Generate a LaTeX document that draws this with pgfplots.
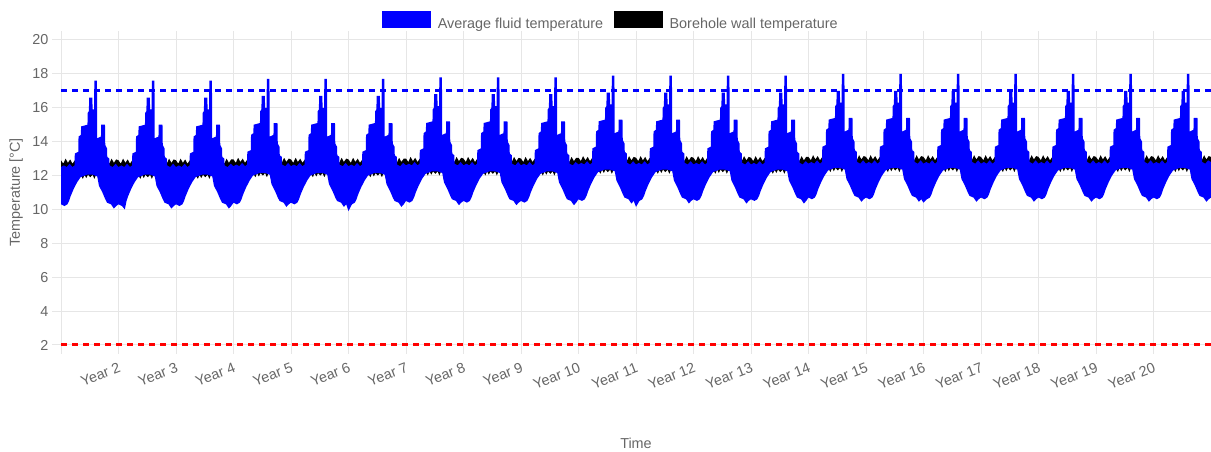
\documentclass[border=0pt]{standalone}
\usepackage{pgfplots}
\usepackage{pgfplotstable}
\pgfplotsset{compat=1.18}
\usepgfplotslibrary{fillbetween}
\usepackage{fontspec}
\setmainfont{Liberation Sans}
\definecolor{txt}{HTML}{666666}
\definecolor{gridc}{HTML}{E6E6E6}
\definecolor{fblue}{RGB}{0,0,255}
\definecolor{fred}{RGB}{255,0,0}
\newcommand{\cf}{\fontsize{14.4}{17}\selectfont}

% Average fluid temperature: upper envelope
\pgfplotstableread[row sep=\\]{x y\\
0 12.5\\0.05 12.6\\0.1 12.5\\0.15 12.7\\0.2 12.5\\0.235 12.6\\0.24 13.3\\0.3 13.4\\0.305 14.3\\0.345 14.4\\0.35 14.9\\0.46 15.0\\0.465 15.7\\0.485 15.8\\0.49 16.6\\0.545 16.6\\0.55 15.9\\0.575 15.9\\0.58 17.6\\0.625 17.6\\0.63 14.2\\0.695 14.3\\0.7 15.0\\0.765 15.0\\0.77 13.8\\0.8 13.6\\0.805 13.1\\0.84 13.0\\0.845 12.6\\0.9 12.5\\0.95 12.7\\
1 12.5\\1.05 12.6\\1.1 12.5\\1.15 12.7\\1.2 12.5\\1.235 12.6\\1.24 13.3\\1.3 13.4\\1.305 14.3\\1.345 14.4\\1.35 14.9\\1.46 15.0\\1.465 15.7\\1.485 15.8\\1.49 16.6\\1.545 16.6\\1.55 15.9\\1.575 15.9\\1.58 17.6\\1.625 17.6\\1.63 14.2\\1.695 14.3\\1.7 15.0\\1.765 15.0\\1.77 13.8\\1.8 13.6\\1.805 13.1\\1.84 13.0\\1.845 12.6\\1.9 12.5\\1.95 12.7\\
2 12.5\\2.05 12.6\\2.1 12.5\\2.15 12.7\\2.2 12.5\\2.235 12.6\\2.24 13.3\\2.3 13.4\\2.305 14.3\\2.345 14.4\\2.35 14.9\\2.46 15.0\\2.465 15.7\\2.485 15.8\\2.49 16.6\\2.545 16.6\\2.55 15.9\\2.575 15.9\\2.58 17.6\\2.625 17.6\\2.63 14.2\\2.695 14.3\\2.7 15.0\\2.765 15.0\\2.77 13.8\\2.8 13.6\\2.805 13.1\\2.84 13.0\\2.845 12.6\\2.9 12.5\\2.95 12.7\\
3 12.55\\3.05 12.65\\3.1 12.55\\3.15 12.75\\3.2 12.55\\3.235 12.65\\3.24 13.4\\3.3 13.5\\3.305 14.4\\3.345 14.5\\3.35 15.0\\3.46 15.1\\3.465 15.8\\3.485 15.9\\3.49 16.7\\3.545 16.7\\3.55 16.0\\3.575 16.0\\3.58 17.7\\3.625 17.7\\3.63 14.3\\3.695 14.4\\3.7 15.1\\3.765 15.1\\3.77 13.9\\3.8 13.7\\3.805 13.2\\3.84 13.1\\3.845 12.65\\3.9 12.55\\3.95 12.75\\
4 12.55\\4.05 12.65\\4.1 12.55\\4.15 12.75\\4.2 12.55\\4.235 12.65\\4.24 13.4\\4.3 13.5\\4.305 14.4\\4.345 14.5\\4.35 15.0\\4.46 15.1\\4.465 15.8\\4.485 15.9\\4.49 16.7\\4.545 16.7\\4.55 16.0\\4.575 16.0\\4.58 17.7\\4.625 17.7\\4.63 14.3\\4.695 14.4\\4.7 15.1\\4.765 15.1\\4.77 13.9\\4.8 13.7\\4.805 13.2\\4.84 13.1\\4.845 12.65\\4.9 12.55\\4.95 12.75\\
5 12.55\\5.05 12.65\\5.1 12.55\\5.15 12.75\\5.2 12.55\\5.235 12.65\\5.24 13.4\\5.3 13.5\\5.305 14.4\\5.345 14.5\\5.35 15.0\\5.46 15.1\\5.465 15.8\\5.485 15.9\\5.49 16.7\\5.545 16.7\\5.55 16.0\\5.575 16.0\\5.58 17.7\\5.625 17.7\\5.63 14.3\\5.695 14.4\\5.7 15.1\\5.765 15.1\\5.77 13.9\\5.8 13.7\\5.805 13.2\\5.84 13.1\\5.845 12.65\\5.9 12.55\\5.95 12.75\\
6 12.6\\6.05 12.7\\6.1 12.6\\6.15 12.8\\6.2 12.6\\6.235 12.7\\6.24 13.5\\6.3 13.6\\6.305 14.5\\6.345 14.6\\6.35 15.1\\6.46 15.2\\6.465 15.9\\6.485 16.0\\6.49 16.8\\6.545 16.8\\6.55 16.1\\6.575 16.1\\6.58 17.8\\6.625 17.8\\6.63 14.4\\6.695 14.5\\6.7 15.2\\6.765 15.2\\6.77 14.0\\6.8 13.8\\6.805 13.3\\6.84 13.2\\6.845 12.7\\6.9 12.6\\6.95 12.8\\
7 12.6\\7.05 12.7\\7.1 12.6\\7.15 12.8\\7.2 12.6\\7.235 12.7\\7.24 13.5\\7.3 13.6\\7.305 14.5\\7.345 14.6\\7.35 15.1\\7.46 15.2\\7.465 15.9\\7.485 16.0\\7.49 16.8\\7.545 16.8\\7.55 16.1\\7.575 16.1\\7.58 17.8\\7.625 17.8\\7.63 14.4\\7.695 14.5\\7.7 15.2\\7.765 15.2\\7.77 14.0\\7.8 13.8\\7.805 13.3\\7.84 13.2\\7.845 12.7\\7.9 12.6\\7.95 12.8\\
8 12.6\\8.05 12.7\\8.1 12.6\\8.15 12.8\\8.2 12.6\\8.235 12.7\\8.24 13.5\\8.3 13.6\\8.305 14.5\\8.345 14.6\\8.35 15.1\\8.46 15.2\\8.465 15.9\\8.485 16.0\\8.49 16.8\\8.545 16.8\\8.55 16.1\\8.575 16.1\\8.58 17.8\\8.625 17.8\\8.63 14.4\\8.695 14.5\\8.7 15.2\\8.765 15.2\\8.77 14.0\\8.8 13.8\\8.805 13.3\\8.84 13.2\\8.845 12.7\\8.9 12.6\\8.95 12.8\\
9 12.65\\9.05 12.75\\9.1 12.65\\9.15 12.85\\9.2 12.65\\9.235 12.75\\9.24 13.6\\9.3 13.7\\9.305 14.6\\9.345 14.7\\9.35 15.2\\9.46 15.3\\9.465 16.0\\9.485 16.1\\9.49 16.9\\9.545 16.9\\9.55 16.2\\9.575 16.2\\9.58 17.9\\9.625 17.9\\9.63 14.5\\9.695 14.6\\9.7 15.3\\9.765 15.3\\9.77 14.1\\9.8 13.9\\9.805 13.4\\9.84 13.3\\9.845 12.75\\9.9 12.65\\9.95 12.85\\
10 12.65\\10.05 12.75\\10.1 12.65\\10.15 12.85\\10.2 12.65\\10.235 12.75\\10.24 13.6\\10.3 13.7\\10.305 14.6\\10.345 14.7\\10.35 15.2\\10.46 15.3\\10.465 16.0\\10.485 16.1\\10.49 16.9\\10.545 16.9\\10.55 16.2\\10.575 16.2\\10.58 17.9\\10.625 17.9\\10.63 14.5\\10.695 14.6\\10.7 15.3\\10.765 15.3\\10.77 14.1\\10.8 13.9\\10.805 13.4\\10.84 13.3\\10.845 12.75\\10.9 12.65\\10.95 12.85\\
11 12.65\\11.05 12.75\\11.1 12.65\\11.15 12.85\\11.2 12.65\\11.235 12.75\\11.24 13.6\\11.3 13.7\\11.305 14.6\\11.345 14.7\\11.35 15.2\\11.46 15.3\\11.465 16.0\\11.485 16.1\\11.49 16.9\\11.545 16.9\\11.55 16.2\\11.575 16.2\\11.58 17.9\\11.625 17.9\\11.63 14.5\\11.695 14.6\\11.7 15.3\\11.765 15.3\\11.77 14.1\\11.8 13.9\\11.805 13.4\\11.84 13.3\\11.845 12.75\\11.9 12.65\\11.95 12.85\\
12 12.65\\12.05 12.75\\12.1 12.65\\12.15 12.85\\12.2 12.65\\12.235 12.75\\12.24 13.6\\12.3 13.7\\12.305 14.6\\12.345 14.7\\12.35 15.2\\12.46 15.3\\12.465 16.0\\12.485 16.1\\12.49 16.9\\12.545 16.9\\12.55 16.2\\12.575 16.2\\12.58 17.9\\12.625 17.9\\12.63 14.5\\12.695 14.6\\12.7 15.3\\12.765 15.3\\12.77 14.1\\12.8 13.9\\12.805 13.4\\12.84 13.3\\12.845 12.75\\12.9 12.65\\12.95 12.85\\
13 12.7\\13.05 12.8\\13.1 12.7\\13.15 12.9\\13.2 12.7\\13.235 12.8\\13.24 13.7\\13.3 13.8\\13.305 14.7\\13.345 14.8\\13.35 15.3\\13.46 15.4\\13.465 16.1\\13.485 16.2\\13.49 17.0\\13.545 17.0\\13.55 16.3\\13.575 16.3\\13.58 18.0\\13.625 18.0\\13.63 14.6\\13.695 14.7\\13.7 15.4\\13.765 15.4\\13.77 14.2\\13.8 14.0\\13.805 13.5\\13.84 13.4\\13.845 12.8\\13.9 12.7\\13.95 12.9\\
14 12.7\\14.05 12.8\\14.1 12.7\\14.15 12.9\\14.2 12.7\\14.235 12.8\\14.24 13.7\\14.3 13.8\\14.305 14.7\\14.345 14.8\\14.35 15.3\\14.46 15.4\\14.465 16.1\\14.485 16.2\\14.49 17.0\\14.545 17.0\\14.55 16.3\\14.575 16.3\\14.58 18.0\\14.625 18.0\\14.63 14.6\\14.695 14.7\\14.7 15.4\\14.765 15.4\\14.77 14.2\\14.8 14.0\\14.805 13.5\\14.84 13.4\\14.845 12.8\\14.9 12.7\\14.95 12.9\\
15 12.7\\15.05 12.8\\15.1 12.7\\15.15 12.9\\15.2 12.7\\15.235 12.8\\15.24 13.7\\15.3 13.8\\15.305 14.7\\15.345 14.8\\15.35 15.3\\15.46 15.4\\15.465 16.1\\15.485 16.2\\15.49 17.0\\15.545 17.0\\15.55 16.3\\15.575 16.3\\15.58 18.0\\15.625 18.0\\15.63 14.6\\15.695 14.7\\15.7 15.4\\15.765 15.4\\15.77 14.2\\15.8 14.0\\15.805 13.5\\15.84 13.4\\15.845 12.8\\15.9 12.7\\15.95 12.9\\
16 12.7\\16.05 12.8\\16.1 12.7\\16.15 12.9\\16.2 12.7\\16.235 12.8\\16.24 13.7\\16.3 13.8\\16.305 14.7\\16.345 14.8\\16.35 15.3\\16.46 15.4\\16.465 16.1\\16.485 16.2\\16.49 17.0\\16.545 17.0\\16.55 16.3\\16.575 16.3\\16.58 18.0\\16.625 18.0\\16.63 14.6\\16.695 14.7\\16.7 15.4\\16.765 15.4\\16.77 14.2\\16.8 14.0\\16.805 13.5\\16.84 13.4\\16.845 12.8\\16.9 12.7\\16.95 12.9\\
17 12.7\\17.05 12.8\\17.1 12.7\\17.15 12.9\\17.2 12.7\\17.235 12.8\\17.24 13.7\\17.3 13.8\\17.305 14.7\\17.345 14.8\\17.35 15.3\\17.46 15.4\\17.465 16.1\\17.485 16.2\\17.49 17.0\\17.545 17.0\\17.55 16.3\\17.575 16.3\\17.58 18.0\\17.625 18.0\\17.63 14.6\\17.695 14.7\\17.7 15.4\\17.765 15.4\\17.77 14.2\\17.8 14.0\\17.805 13.5\\17.84 13.4\\17.845 12.8\\17.9 12.7\\17.95 12.9\\
18 12.7\\18.05 12.8\\18.1 12.7\\18.15 12.9\\18.2 12.7\\18.235 12.8\\18.24 13.7\\18.3 13.8\\18.305 14.7\\18.345 14.8\\18.35 15.3\\18.46 15.4\\18.465 16.1\\18.485 16.2\\18.49 17.0\\18.545 17.0\\18.55 16.3\\18.575 16.3\\18.58 18.0\\18.625 18.0\\18.63 14.6\\18.695 14.7\\18.7 15.4\\18.765 15.4\\18.77 14.2\\18.8 14.0\\18.805 13.5\\18.84 13.4\\18.845 12.8\\18.9 12.7\\18.95 12.9\\
19 12.7\\19.05 12.8\\19.1 12.7\\19.15 12.9\\19.2 12.7\\19.235 12.8\\19.24 13.7\\19.3 13.8\\19.305 14.7\\19.345 14.8\\19.35 15.3\\19.46 15.4\\19.465 16.1\\19.485 16.2\\19.49 17.0\\19.545 17.0\\19.55 16.3\\19.575 16.3\\19.58 18.0\\19.625 18.0\\19.63 14.6\\19.695 14.7\\19.7 15.4\\19.765 15.4\\19.77 14.2\\19.8 14.0\\19.805 13.5\\19.84 13.4\\19.845 12.8\\19.9 12.7\\19.95 12.9\\
20 12.8\\
}\Uenv

% Average fluid temperature: lower envelope
\pgfplotstableread[row sep=\\]{x y\\
0 10.3\\0.06 10.2\\0.11 10.3\\0.14 10.5\\0.17 10.8\\0.22 11.2\\0.28 11.6\\0.34 11.9\\0.45 12.05\\0.55 12.05\\0.63 11.95\\0.66 11.4\\0.72 11.0\\0.77 10.6\\0.8 10.4\\0.87 10.3\\0.92 10.05\\0.96 10.2\\
1 10.3\\1.06 10.2\\1.11 10.0\\1.14 10.5\\1.17 10.8\\1.22 11.2\\1.28 11.6\\1.34 11.9\\1.45 12.05\\1.55 12.05\\1.63 11.95\\1.66 11.4\\1.72 11.0\\1.77 10.6\\1.8 10.4\\1.87 10.3\\1.92 10.05\\1.96 10.2\\
2 10.3\\2.06 10.2\\2.11 10.3\\2.14 10.5\\2.17 10.8\\2.22 11.2\\2.28 11.6\\2.34 11.9\\2.45 12.05\\2.55 12.05\\2.63 11.95\\2.66 11.4\\2.72 11.0\\2.77 10.6\\2.8 10.4\\2.87 10.3\\2.92 10.05\\2.96 10.2\\
3 10.4\\3.06 10.3\\3.11 10.4\\3.14 10.6\\3.17 10.9\\3.22 11.3\\3.28 11.7\\3.34 12.0\\3.45 12.15\\3.55 12.15\\3.63 12.05\\3.66 11.5\\3.72 11.1\\3.77 10.7\\3.8 10.5\\3.87 10.4\\3.92 10.15\\3.96 10.3\\
4 10.4\\4.06 10.3\\4.11 10.4\\4.14 10.6\\4.17 10.9\\4.22 11.3\\4.28 11.7\\4.34 12.0\\4.45 12.15\\4.55 12.15\\4.63 12.05\\4.66 11.5\\4.72 11.1\\4.77 10.7\\4.8 10.5\\4.87 10.4\\4.92 10.15\\4.96 10.3\\
5 9.9\\5.06 10.3\\5.11 10.4\\5.14 10.6\\5.17 10.9\\5.22 11.3\\5.28 11.7\\5.34 12.0\\5.45 12.15\\5.55 12.15\\5.63 12.05\\5.66 11.5\\5.72 11.1\\5.77 10.7\\5.8 10.5\\5.87 10.4\\5.92 10.15\\5.96 10.3\\
6 10.5\\6.06 10.4\\6.11 10.5\\6.14 10.7\\6.17 11.0\\6.22 11.4\\6.28 11.8\\6.34 12.1\\6.45 12.25\\6.55 12.25\\6.63 12.15\\6.66 11.6\\6.72 11.2\\6.77 10.8\\6.8 10.6\\6.87 10.5\\6.92 10.25\\6.96 10.4\\
7 10.5\\7.06 10.4\\7.11 10.5\\7.14 10.7\\7.17 11.0\\7.22 11.4\\7.28 11.8\\7.34 12.1\\7.45 12.25\\7.55 12.25\\7.63 12.15\\7.66 11.6\\7.72 11.2\\7.77 10.8\\7.8 10.6\\7.87 10.5\\7.92 10.25\\7.96 10.4\\
8 10.5\\8.06 10.4\\8.11 10.5\\8.14 10.7\\8.17 11.0\\8.22 11.4\\8.28 11.8\\8.34 12.1\\8.45 12.25\\8.55 12.25\\8.63 12.15\\8.66 11.6\\8.72 11.2\\8.77 10.8\\8.8 10.6\\8.87 10.5\\8.92 10.25\\8.96 10.4\\
9 10.6\\9.06 10.5\\9.11 10.6\\9.14 10.8\\9.17 11.1\\9.22 11.5\\9.28 11.9\\9.34 12.2\\9.45 12.35\\9.55 12.35\\9.63 12.25\\9.66 11.7\\9.72 11.3\\9.77 10.9\\9.8 10.7\\9.87 10.6\\9.92 10.35\\9.96 10.5\\
10 10.15\\10.06 10.5\\10.11 10.6\\10.14 10.8\\10.17 11.1\\10.22 11.5\\10.28 11.9\\10.34 12.2\\10.45 12.35\\10.55 12.35\\10.63 12.25\\10.66 11.7\\10.72 11.3\\10.77 10.9\\10.8 10.7\\10.87 10.6\\10.92 10.35\\10.96 10.5\\
11 10.6\\11.06 10.5\\11.11 10.6\\11.14 10.8\\11.17 11.1\\11.22 11.5\\11.28 11.9\\11.34 12.2\\11.45 12.35\\11.55 12.35\\11.63 12.25\\11.66 11.7\\11.72 11.3\\11.77 10.9\\11.8 10.7\\11.87 10.6\\11.92 10.35\\11.96 10.5\\
12 10.6\\12.06 10.5\\12.11 10.6\\12.14 10.8\\12.17 11.1\\12.22 11.5\\12.28 11.9\\12.34 12.2\\12.45 12.35\\12.55 12.35\\12.63 12.25\\12.66 11.7\\12.72 11.3\\12.77 10.9\\12.8 10.7\\12.87 10.6\\12.92 10.35\\12.96 10.5\\
13 10.7\\13.06 10.6\\13.11 10.7\\13.14 10.9\\13.17 11.2\\13.22 11.6\\13.28 12.0\\13.34 12.3\\13.45 12.45\\13.55 12.45\\13.63 12.35\\13.66 11.8\\13.72 11.4\\13.77 11.0\\13.8 10.8\\13.87 10.7\\13.92 10.45\\13.96 10.6\\
14 10.7\\14.06 10.6\\14.11 10.7\\14.14 10.9\\14.17 11.2\\14.22 11.6\\14.28 12.0\\14.34 12.3\\14.45 12.45\\14.55 12.45\\14.63 12.35\\14.66 11.8\\14.72 11.4\\14.77 11.0\\14.8 10.8\\14.87 10.7\\14.92 10.45\\14.96 10.6\\
15 10.4\\15.06 10.6\\15.11 10.7\\15.14 10.9\\15.17 11.2\\15.22 11.6\\15.28 12.0\\15.34 12.3\\15.45 12.45\\15.55 12.45\\15.63 12.35\\15.66 11.8\\15.72 11.4\\15.77 11.0\\15.8 10.8\\15.87 10.7\\15.92 10.45\\15.96 10.6\\
16 10.7\\16.06 10.6\\16.11 10.7\\16.14 10.9\\16.17 11.2\\16.22 11.6\\16.28 12.0\\16.34 12.3\\16.45 12.45\\16.55 12.45\\16.63 12.35\\16.66 11.8\\16.72 11.4\\16.77 11.0\\16.8 10.8\\16.87 10.7\\16.92 10.45\\16.96 10.6\\
17 10.7\\17.06 10.6\\17.11 10.7\\17.14 10.9\\17.17 11.2\\17.22 11.6\\17.28 12.0\\17.34 12.3\\17.45 12.45\\17.55 12.45\\17.63 12.35\\17.66 11.8\\17.72 11.4\\17.77 11.0\\17.8 10.8\\17.87 10.7\\17.92 10.45\\17.96 10.6\\
18 10.7\\18.06 10.6\\18.11 10.7\\18.14 10.9\\18.17 11.2\\18.22 11.6\\18.28 12.0\\18.34 12.3\\18.45 12.45\\18.55 12.45\\18.63 12.35\\18.66 11.8\\18.72 11.4\\18.77 11.0\\18.8 10.8\\18.87 10.7\\18.92 10.45\\18.96 10.6\\
19 10.7\\19.06 10.6\\19.11 10.7\\19.14 10.9\\19.17 11.2\\19.22 11.6\\19.28 12.0\\19.34 12.3\\19.45 12.45\\19.55 12.45\\19.63 12.35\\19.66 11.8\\19.72 11.4\\19.77 11.0\\19.8 10.8\\19.87 10.7\\19.92 10.45\\19.96 10.6\\
20 10.7\\
}\Lenv

% Borehole wall temperature: upper envelope
\pgfplotstableread[row sep=\\]{x y\\
0 12.9\\0.04 12.7\\0.08 13.0\\0.12 12.75\\0.16 12.95\\0.2 12.7\\0.24 12.9\\0.5 12.9\\0.76 12.9\\0.8 12.95\\0.84 12.7\\0.88 13.0\\0.92 12.75\\0.96 12.95\\
1 12.9\\1.04 12.7\\1.08 13.0\\1.12 12.75\\1.16 12.95\\1.2 12.7\\1.24 12.9\\1.5 12.9\\1.76 12.9\\1.8 12.95\\1.84 12.7\\1.88 13.0\\1.92 12.75\\1.96 12.95\\
2 12.9\\2.04 12.7\\2.08 13.0\\2.12 12.75\\2.16 12.95\\2.2 12.7\\2.24 12.9\\2.5 12.9\\2.76 12.9\\2.8 12.95\\2.84 12.7\\2.88 13.0\\2.92 12.75\\2.96 12.95\\
3 12.95\\3.04 12.75\\3.08 13.05\\3.12 12.8\\3.16 13.0\\3.2 12.75\\3.24 12.95\\3.5 12.95\\3.76 12.95\\3.8 13.0\\3.84 12.75\\3.88 13.05\\3.92 12.8\\3.96 13.0\\
4 12.95\\4.04 12.75\\4.08 13.05\\4.12 12.8\\4.16 13.0\\4.2 12.75\\4.24 12.95\\4.5 12.95\\4.76 12.95\\4.8 13.0\\4.84 12.75\\4.88 13.05\\4.92 12.8\\4.96 13.0\\
5 12.95\\5.04 12.75\\5.08 13.05\\5.12 12.8\\5.16 13.0\\5.2 12.75\\5.24 12.95\\5.5 12.95\\5.76 12.95\\5.8 13.0\\5.84 12.75\\5.88 13.05\\5.92 12.8\\5.96 13.0\\
6 13.0\\6.04 12.8\\6.08 13.1\\6.12 12.85\\6.16 13.05\\6.2 12.8\\6.24 13.0\\6.5 13.0\\6.76 13.0\\6.8 13.05\\6.84 12.8\\6.88 13.1\\6.92 12.85\\6.96 13.05\\
7 13.0\\7.04 12.8\\7.08 13.1\\7.12 12.85\\7.16 13.05\\7.2 12.8\\7.24 13.0\\7.5 13.0\\7.76 13.0\\7.8 13.05\\7.84 12.8\\7.88 13.1\\7.92 12.85\\7.96 13.05\\
8 13.0\\8.04 12.8\\8.08 13.1\\8.12 12.85\\8.16 13.05\\8.2 12.8\\8.24 13.0\\8.5 13.0\\8.76 13.0\\8.8 13.05\\8.84 12.8\\8.88 13.1\\8.92 12.85\\8.96 13.05\\
9 13.05\\9.04 12.85\\9.08 13.15\\9.12 12.9\\9.16 13.1\\9.2 12.85\\9.24 13.05\\9.5 13.05\\9.76 13.05\\9.8 13.1\\9.84 12.85\\9.88 13.15\\9.92 12.9\\9.96 13.1\\
10 13.05\\10.04 12.85\\10.08 13.15\\10.12 12.9\\10.16 13.1\\10.2 12.85\\10.24 13.05\\10.5 13.05\\10.76 13.05\\10.8 13.1\\10.84 12.85\\10.88 13.15\\10.92 12.9\\10.96 13.1\\
11 13.05\\11.04 12.85\\11.08 13.15\\11.12 12.9\\11.16 13.1\\11.2 12.85\\11.24 13.05\\11.5 13.05\\11.76 13.05\\11.8 13.1\\11.84 12.85\\11.88 13.15\\11.92 12.9\\11.96 13.1\\
12 13.05\\12.04 12.85\\12.08 13.15\\12.12 12.9\\12.16 13.1\\12.2 12.85\\12.24 13.05\\12.5 13.05\\12.76 13.05\\12.8 13.1\\12.84 12.85\\12.88 13.15\\12.92 12.9\\12.96 13.1\\
13 13.1\\13.04 12.9\\13.08 13.2\\13.12 12.95\\13.16 13.15\\13.2 12.9\\13.24 13.1\\13.5 13.1\\13.76 13.1\\13.8 13.15\\13.84 12.9\\13.88 13.2\\13.92 12.95\\13.96 13.15\\
14 13.1\\14.04 12.9\\14.08 13.2\\14.12 12.95\\14.16 13.15\\14.2 12.9\\14.24 13.1\\14.5 13.1\\14.76 13.1\\14.8 13.15\\14.84 12.9\\14.88 13.2\\14.92 12.95\\14.96 13.15\\
15 13.1\\15.04 12.9\\15.08 13.2\\15.12 12.95\\15.16 13.15\\15.2 12.9\\15.24 13.1\\15.5 13.1\\15.76 13.1\\15.8 13.15\\15.84 12.9\\15.88 13.2\\15.92 12.95\\15.96 13.15\\
16 13.1\\16.04 12.9\\16.08 13.2\\16.12 12.95\\16.16 13.15\\16.2 12.9\\16.24 13.1\\16.5 13.1\\16.76 13.1\\16.8 13.15\\16.84 12.9\\16.88 13.2\\16.92 12.95\\16.96 13.15\\
17 13.1\\17.04 12.9\\17.08 13.2\\17.12 12.95\\17.16 13.15\\17.2 12.9\\17.24 13.1\\17.5 13.1\\17.76 13.1\\17.8 13.15\\17.84 12.9\\17.88 13.2\\17.92 12.95\\17.96 13.15\\
18 13.1\\18.04 12.9\\18.08 13.2\\18.12 12.95\\18.16 13.15\\18.2 12.9\\18.24 13.1\\18.5 13.1\\18.76 13.1\\18.8 13.15\\18.84 12.9\\18.88 13.2\\18.92 12.95\\18.96 13.15\\
19 13.1\\19.04 12.9\\19.08 13.2\\19.12 12.95\\19.16 13.15\\19.2 12.9\\19.24 13.1\\19.5 13.1\\19.76 13.1\\19.8 13.15\\19.84 12.9\\19.88 13.2\\19.92 12.95\\19.96 13.15\\
20 13.1\\
}\Kenv

% Borehole wall temperature: lower envelope
\pgfplotstableread[row sep=\\]{x y\\
0 11.9\\0.35 12.0\\0.38 11.8\\0.41 12.05\\0.44 11.85\\0.47 12.05\\0.51 11.9\\0.55 12.05\\0.58 11.8\\0.61 12.05\\0.7 11.9\\
1 11.9\\1.35 12.0\\1.38 11.8\\1.41 12.05\\1.44 11.85\\1.47 12.05\\1.51 11.9\\1.55 12.05\\1.58 11.8\\1.61 12.05\\1.7 11.9\\
2 11.9\\2.35 12.0\\2.38 11.8\\2.41 12.05\\2.44 11.85\\2.47 12.05\\2.51 11.9\\2.55 12.05\\2.58 11.8\\2.61 12.05\\2.7 11.9\\
3 12.0\\3.35 12.1\\3.38 11.9\\3.41 12.15\\3.44 11.95\\3.47 12.15\\3.51 12.0\\3.55 12.15\\3.58 11.9\\3.61 12.15\\3.7 12.0\\
4 12.0\\4.35 12.1\\4.38 11.9\\4.41 12.15\\4.44 11.95\\4.47 12.15\\4.51 12.0\\4.55 12.15\\4.58 11.9\\4.61 12.15\\4.7 12.0\\
5 12.0\\5.35 12.1\\5.38 11.9\\5.41 12.15\\5.44 11.95\\5.47 12.15\\5.51 12.0\\5.55 12.15\\5.58 11.9\\5.61 12.15\\5.7 12.0\\
6 12.1\\6.35 12.2\\6.38 12.0\\6.41 12.25\\6.44 12.05\\6.47 12.25\\6.51 12.1\\6.55 12.25\\6.58 12.0\\6.61 12.25\\6.7 12.1\\
7 12.1\\7.35 12.2\\7.38 12.0\\7.41 12.25\\7.44 12.05\\7.47 12.25\\7.51 12.1\\7.55 12.25\\7.58 12.0\\7.61 12.25\\7.7 12.1\\
8 12.1\\8.35 12.2\\8.38 12.0\\8.41 12.25\\8.44 12.05\\8.47 12.25\\8.51 12.1\\8.55 12.25\\8.58 12.0\\8.61 12.25\\8.7 12.1\\
9 12.2\\9.35 12.3\\9.38 12.1\\9.41 12.35\\9.44 12.15\\9.47 12.35\\9.51 12.2\\9.55 12.35\\9.58 12.1\\9.61 12.35\\9.7 12.2\\
10 12.2\\10.35 12.3\\10.38 12.1\\10.41 12.35\\10.44 12.15\\10.47 12.35\\10.51 12.2\\10.55 12.35\\10.58 12.1\\10.61 12.35\\10.7 12.2\\
11 12.2\\11.35 12.3\\11.38 12.1\\11.41 12.35\\11.44 12.15\\11.47 12.35\\11.51 12.2\\11.55 12.35\\11.58 12.1\\11.61 12.35\\11.7 12.2\\
12 12.2\\12.35 12.3\\12.38 12.1\\12.41 12.35\\12.44 12.15\\12.47 12.35\\12.51 12.2\\12.55 12.35\\12.58 12.1\\12.61 12.35\\12.7 12.2\\
13 12.3\\13.35 12.4\\13.38 12.2\\13.41 12.45\\13.44 12.25\\13.47 12.45\\13.51 12.3\\13.55 12.45\\13.58 12.2\\13.61 12.45\\13.7 12.3\\
14 12.3\\14.35 12.4\\14.38 12.2\\14.41 12.45\\14.44 12.25\\14.47 12.45\\14.51 12.3\\14.55 12.45\\14.58 12.2\\14.61 12.45\\14.7 12.3\\
15 12.3\\15.35 12.4\\15.38 12.2\\15.41 12.45\\15.44 12.25\\15.47 12.45\\15.51 12.3\\15.55 12.45\\15.58 12.2\\15.61 12.45\\15.7 12.3\\
16 12.3\\16.35 12.4\\16.38 12.2\\16.41 12.45\\16.44 12.25\\16.47 12.45\\16.51 12.3\\16.55 12.45\\16.58 12.2\\16.61 12.45\\16.7 12.3\\
17 12.3\\17.35 12.4\\17.38 12.2\\17.41 12.45\\17.44 12.25\\17.47 12.45\\17.51 12.3\\17.55 12.45\\17.58 12.2\\17.61 12.45\\17.7 12.3\\
18 12.3\\18.35 12.4\\18.38 12.2\\18.41 12.45\\18.44 12.25\\18.47 12.45\\18.51 12.3\\18.55 12.45\\18.58 12.2\\18.61 12.45\\18.7 12.3\\
19 12.3\\19.35 12.4\\19.38 12.2\\19.41 12.45\\19.44 12.25\\19.47 12.45\\19.51 12.3\\19.55 12.45\\19.58 12.2\\19.61 12.45\\19.7 12.3\\
20 12.3\\
}\Benv

\pgfplotsset{
  blueleg/.style={legend image code/.code={\fill[fblue] (0pt,-3pt) rectangle (48pt,13pt);}},
  blackleg/.style={legend image code/.code={\fill[black] (0pt,-3pt) rectangle (48pt,13pt);}},
}

\begin{document}
\begin{tikzpicture}
\begin{axis}[
  at={(61pt,107pt)}, anchor=south west,
  scale only axis, width=1150pt, height=305pt,
  xmin=0, xmax=20, ymin=2, ymax=20,
  clip=false,
  axis line style={draw=none},
  grid=major, major grid style={draw=gridc, line width=1pt},
  tick align=outside, major tick length=9pt,
  tick style={draw=gridc, line width=1pt},
  xtick={0,1,...,20},
  xticklabels={,Year 2,Year 3,Year 4,Year 5,Year 6,Year 7,Year 8,Year 9,Year 10,Year 11,Year 12,Year 13,Year 14,Year 15,Year 16,Year 17,Year 18,Year 19,Year 20,},
  ytick={2,4,...,20},
  /pgf/number format/assume math mode=true,
  xticklabel style={font=\cf, text=txt, yshift=-7pt, rotate=21, anchor=north east, inner sep=1pt},
  yticklabel style={font=\cf, text=txt},
  xlabel={Time}, ylabel={Temperature [°C]},
  label style={font=\cf, text=txt},
  xlabel style={at={(axis description cs:0.5,-0.322)}, anchor=center},
  ylabel style={at={(axis description cs:-0.039,0.5)}, anchor=center},
  legend style={at={(axis description cs:0.4783,1.062)}, anchor=center, draw=none, fill=none,
    font=\cf, text=txt, inner sep=0pt,
    /tikz/every odd column/.append style={column sep=5pt},
    /tikz/every even column/.append style={column sep=9pt}},
  legend columns=2, legend cell align=left,
]
\addlegendimage{blueleg}\addlegendentry{Average fluid temperature}
\addlegendimage{blackleg}\addlegendentry{Borehole wall temperature}
\addplot[draw=none, name path=K, forget plot] table {\Kenv};
\addplot[draw=none, name path=B, forget plot] table {\Benv};
\addplot[fill=black, draw=none, forget plot] fill between[of=K and B];
\addplot[draw=none, name path=U, forget plot] table {\Uenv};
\addplot[draw=none, name path=L, forget plot] table {\Lenv};
\addplot[fill=fblue, draw=none, forget plot] fill between[of=U and L];
\addplot[fblue, line width=3pt, dash pattern=on 6pt off 5pt, forget plot] coordinates {(0,17) (20,17)};
\addplot[fred, line width=3pt, dash pattern=on 6pt off 5pt, forget plot] coordinates {(0,2) (20,2)};
\end{axis}
\pgfresetboundingbox
\path[use as bounding box] (0,0) rectangle (1211pt,452pt);
\end{tikzpicture}
\end{document}
